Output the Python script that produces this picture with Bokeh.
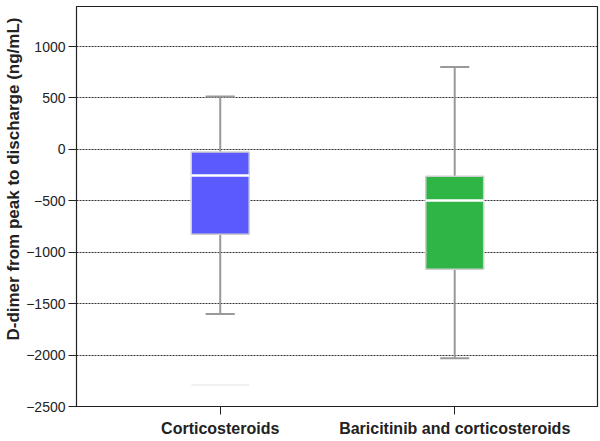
from bokeh.plotting import figure
from bokeh.models import Range1d, FixedTicker, Title
from bokeh.embed import file_html
from bokeh.resources import INLINE

# ---- data ----
groups = ["Corticosteroids", "Baricitinib and corticosteroids"]
xpos = [1, 2]
q1 = [-825, -1165]
median = [-255, -497]
q3 = [-25, -262]
whisk_lo = [-1600, -2030]
whisk_hi = [515, 800]
box_colors = ["#5a5aff", "#2eb546"]
faint_x = [1]
faint_y = [-2290]
yticks = [-2500, -2000, -1500, -1000, -500, 0, 500, 1000]

FONT = "Liberation Sans"
BOX_W = 0.247
CAP_W = 0.124

p = figure(frame_width=521, frame_height=400, output_backend="svg",
           toolbar_location=None,
           x_range=Range1d(0.387, 2.609), y_range=Range1d(-2500, 1389),
           min_border_left=74, min_border_right=3, min_border_top=6,
           min_border_bottom=0)

p.outline_line_color = "#222222"
p.outline_line_width = 1.2
p.background_fill_color = "white"
p.border_fill_color = "white"

# grid
p.xgrid.visible = False
p.ygrid.ticker = FixedTicker(ticks=yticks)
p.ygrid.grid_line_color = "#333333"
p.ygrid.grid_line_dash = "2 1"
p.ygrid.grid_line_width = 1

# axes
p.yaxis.ticker = FixedTicker(ticks=yticks)
p.yaxis.minor_tick_line_color = None
p.yaxis.major_tick_out = 8
p.yaxis.major_tick_in = 0
p.yaxis.major_label_text_font = FONT
p.yaxis.major_label_text_font_size = "14px"
p.yaxis.major_label_text_color = "#222222"
p.yaxis.major_label_standoff = 3
p.yaxis.axis_line_color = "#222222"
p.yaxis.major_tick_line_color = "#222222"

p.xaxis.ticker = FixedTicker(ticks=xpos)
p.xaxis.major_label_overrides = {x: g for x, g in zip(xpos, groups)}
p.xaxis.minor_tick_line_color = None
p.xaxis.major_tick_out = 8
p.xaxis.major_tick_in = 0
p.xaxis.major_label_text_font = FONT
p.xaxis.major_label_text_font_size = "16px"
p.xaxis.major_label_text_font_style = "bold"
p.xaxis.major_label_text_color = "#222222"
p.xaxis.major_label_standoff = 5
p.xaxis.axis_line_color = "#222222"
p.xaxis.major_tick_line_color = "#222222"

p.add_layout(Title(text="D-dimer from peak to discharge (ng/mL)",
                   text_font=FONT, text_font_size="17px",
                   text_font_style="bold", text_color="#222222",
                   align="right", offset=11, standoff=2), "left")

# faint remnant line
p.segment(x0=[x - BOX_W / 2 for x in faint_x], x1=[x + BOX_W / 2 for x in faint_x],
          y0=faint_y, y1=faint_y, line_color="#ececec", line_width=1.5)

# whiskers
p.segment(x0=xpos, x1=xpos, y0=q3, y1=whisk_hi, line_color="#999999", line_width=2)
p.segment(x0=xpos, x1=xpos, y0=q1, y1=whisk_lo, line_color="#999999", line_width=2)

# boxes
p.vbar(x=xpos, width=BOX_W, top=q3, bottom=q1, fill_color=box_colors,
       line_color="#cfcfcf", line_width=1.5)

# medians
p.segment(x0=[x - BOX_W / 2 for x in xpos], x1=[x + BOX_W / 2 for x in xpos],
          y0=median, y1=median, line_color="white", line_width=2.5)

# caps
p.segment(x0=[x - CAP_W / 2 for x in xpos], x1=[x + CAP_W / 2 for x in xpos],
          y0=whisk_hi, y1=whisk_hi, line_color="#999999", line_width=2)
p.segment(x0=[x - CAP_W / 2 for x in xpos], x1=[x + CAP_W / 2 for x in xpos],
          y0=whisk_lo, y1=whisk_lo, line_color="#999999", line_width=2)

open("out.html", "w").write(file_html(p, INLINE))
